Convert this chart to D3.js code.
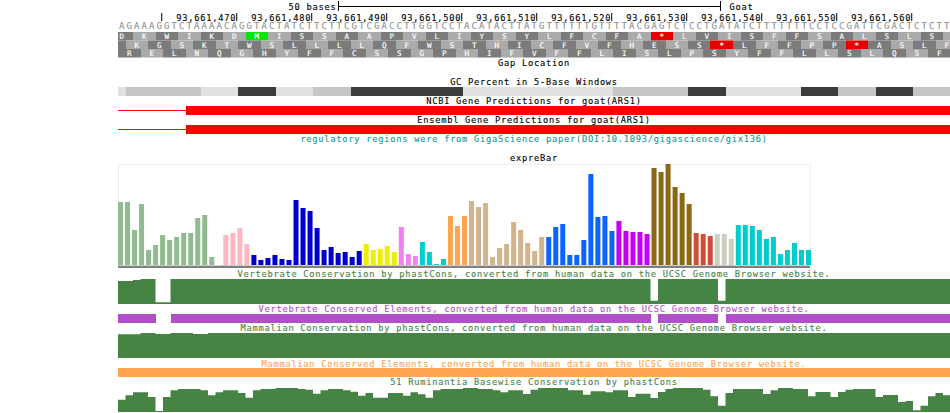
<!DOCTYPE html>
<html>
<head>
<meta charset="utf-8">
<script src="https://cdn.jsdelivr.net/npm/d3@7/dist/d3.min.js"></script>
<style>
body { margin: 0; background: #fff; }
svg { display: block; }
text { font-family: "DejaVu Sans Mono", "Liberation Mono", monospace; font-size: 8.7px; letter-spacing: 0.76px;
       stroke: currentColor; stroke-width: 0.12px; }
</style>
</head>
<body>
<svg id="chart" width="950" height="413"></svg>
<script>
var width = 950;
var height = 413;

// ---------- data ----------
var assemblyName = "Goat";
var viewStart = 93661454.17;          // genome coordinate at the left edge
var scaleBarLabel = "50 bases";
var scaleBarFrom = 93661483.5;
var scaleBarTo = 93661534.5;
var rulerTicks = [93661460, 93661470, 93661480, 93661490, 93661500, 93661510,
                  93661520, 93661530, 93661540, 93661550, 93661560];

var sequence = "AGAAAGGTCTAAAACAGGTACTATCTTCTTCGTCGACCTTGGTCCTAC" +
               "ATACTTATGTTTTTTGTTTTACGAGTCTCCTGATATCTTTTTTTCCTCCGATTCGACTCTCTT";

// three reading frames: first codon start (base index) and the peptide letters
var aaOffsets = [-1, -2, 0];
var aaPeptides = [
  "DKWIKDMISSAAPVLIYSYLFCFA*LVISFFSALSLS ",
  " KGSKTWSLLLLQFWSTHICFVFHESS*LFFPP*ASLF",
  "RELNQGHYFFCSSGPHIFVFFLISLPSYFFLLSLQSF"
];

// GC percent in 5-base windows, first window starts at base -4
var gcWindowStart = -4;
var gcPercent = [20, 40, 40, 20, 60, 20, 40, 60, 60, 60, 20, 20, 20, 20, 40, 40, 60, 20, 20, 60, 40, 60, 40];

// gene models (base index where the thick part begins)
var ncbiThickStart = 9;
var ensemblThickStart = 9;

// expreBar: tissue groups and their bar counts, then bar values
var tissueGroups = ["adipose", "breast", "brain", "pituitary", "nerve", "thyroid", "muscle",
                    "gut", "blood", "skin", "liver", "spleen", "uterus", "lung"];
var tissueCounts = [14, 5, 16, 5, 3, 4, 3, 11, 10, 5, 6, 3, 3, 11];
var expreValues = [
  63, 63, 35, 61, 15, 20, 30, 25, 28, 32, 32, 47, 50, 8,
  0, 30, 32, 37, 21,
  10, 5, 7, 10, 6, 5, 65, 57, 54, 37, 15, 18, 12, 13, 8, 14,
  21, 15, 16, 19, 13,
  38, 11, 9,
  23, 13, 1, 6,
  49, 39, 49,
  64, 58, 62, 8, 17, 21, 43, 35, 22, 14, 28,
  28, 38, 41, 10, 10, 25, 91, 48, 49, 34,
  44, 34, 33, 33, 31,
  97, 93, 101, 78, 72, 61,
  32, 31, 29,
  31, 31, 26,
  40, 40, 39, 35, 26, 28, 11, 15, 22, 15, 15
];

// per-base conservation scores (0..1)
var vertCons = [
  0.92, 0.92, 0.96, 1, 1, 0.07, 0.07, 1, 1, 1,
  1, 1, 1, 1, 1, 1, 1, 1, 1, 1,
  1, 1, 1, 1, 1, 1, 1, 1, 1, 1,
  1, 1, 1, 1, 1, 1, 1, 1, 1, 1,
  1, 1, 1, 1, 1, 1, 1, 1, 1, 1,
  1, 1, 1, 1, 1, 1, 1, 1, 1, 1,
  1, 1, 1, 1, 1, 1, 1, 1, 1, 1,
  1, 0.13, 1, 1, 1, 1, 1, 1, 1, 1,
  0.13, 1, 1, 1, 1, 1, 1, 1, 1, 1,
  1, 1, 1, 1, 1, 1, 1, 1, 1, 1,
  1, 1, 1, 1, 1, 1, 1, 1, 1, 1,
  1
];
var mammCons = [
  0.95, 0.95, 0.95, 1, 1, 0.96, 0.96, 1, 1, 1,
  0.96, 0.96, 1, 1, 1, 1, 1, 1, 1, 1,
  1, 1, 1, 1, 1, 1, 1, 1, 1, 1,
  1, 1, 1, 1, 1, 1, 1, 1, 1, 1,
  1, 1, 1, 1, 1, 1, 1, 1, 1, 1,
  1, 1, 1, 1, 1, 1, 1, 1, 1, 1,
  1, 1, 1, 1, 1, 1, 1, 1, 1, 1,
  1, 1, 1, 1, 1, 1, 1, 1, 1, 1,
  1, 1, 1, 1, 1, 1, 1, 1, 1, 1,
  1, 1, 1, 1, 1, 1, 1, 1, 1, 1,
  1, 1, 1, 1, 1, 1, 1, 1, 1, 1,
  1
];
var rumCons = [
  0.49, 0.67, 0.79, 0.79, 0.60, 0.04, 0.60, 0.87, 0.92, 0.92,
  0.92, 0.87, 0.67, 0.79, 0.87, 0.87, 0.76, 0.57, 0.87, 0.92,
  0.92, 0.96, 0.96, 0.96, 0.92, 0.89, 0.73, 0.87, 0.92, 0.92,
  0.87, 0.81, 0.65, 0.76, 0.57, 0.57, 0.76, 0.76, 0.65, 0.79,
  0.71, 0.57, 0.87, 0.92, 0.92, 0.92, 0.96, 0.96, 0.92, 0.92,
  0.87, 0.79, 0.87, 0.87, 0.72, 0.89, 0.96, 0.96, 0.96, 0.96,
  0.87, 0.87, 0.69, 0.83, 0.83, 0.79, 0.87, 0.87, 0.60, 0.73,
  0.73, 0.56, 0.80, 0.92, 0.96, 0.96, 0.96, 0.96, 0.89, 0.63,
  0.25, 0.76, 0.92, 0.92, 0.92, 0.92, 0.72, 0.87, 0.96, 0.96,
  0.92, 0.92, 0.63, 0.80, 0.80, 0.60, 0.80, 0.89, 0.92, 0.92,
  0.92, 0.60, 0.68, 0.68, 0.40, 0.44, 0.07, 0.25, 0.63, 0.76,
  0.67
];

// conserved elements as [startBase, endBase)
var vertElements = [[0, 5], [7, 71], [72, 80], [81, 111]];
var mammElements = [[0, 111]];

// ---------- drawing ----------
var svg = d3.select("#chart");
var nBases = sequence.length;
var left = 118, right = 950.5, mid = 534;
var consGreen = "#468446";

var xb = d3.scaleLinear().domain([0, nBases]).range([left, right]);
function xr(i) { return Math.round(xb(Math.max(0, Math.min(nBases, i)))); }
var xPos = d3.scaleLinear().domain([viewStart, viewStart + nBases]).range([left, right]);

svg.append("defs").append("clipPath").attr("id", "data-clip")
  .append("rect").attr("x", left).attr("y", 0).attr("width", right - left).attr("height", height);

function title(txt, y, color) {
  svg.append("text").attr("x", mid).attr("y", y).attr("text-anchor", "middle")
    .attr("fill", color || "#000").style("color", color || "#000").text(txt);
}

// scale bar
var sbx0 = Math.round(xPos(scaleBarFrom)) + 0.5;
var sbx1 = Math.round(xPos(scaleBarTo)) + 0.5;
svg.append("line").attr("x1", sbx0).attr("x2", sbx1).attr("y1", 6.5).attr("y2", 6.5).attr("stroke", "#000");
svg.selectAll(".sbtick").data([sbx0, sbx1]).enter().append("line")
  .attr("x1", function(d) { return d; }).attr("x2", function(d) { return d; })
  .attr("y1", 1).attr("y2", 11).attr("stroke", "#000");
svg.append("text").attr("x", sbx0 - 2).attr("y", 9.5).attr("text-anchor", "end").text(scaleBarLabel);
svg.append("text").attr("x", sbx1 + 9).attr("y", 9.5).text(assemblyName);

// ruler
var fmt = d3.format(",");
var ruler = svg.append("g").attr("transform", "translate(0,21)")
  .call(d3.axisTop(xPos).tickValues(rulerTicks).tickSize(8).tickSizeOuter(0)
    .tickFormat(function(d, i) { return i === 0 ? "" : fmt(d); }));
ruler.attr("font-size", null).attr("font-family", null);
ruler.select(".domain").remove();
ruler.selectAll(".tick line").attr("stroke", "#000").attr("transform", "translate(-0.5,0)");
ruler.selectAll(".tick text").attr("text-anchor", "end").attr("x", -1).attr("y", -0.5).attr("dy", null)
  .style("color", "#000");

// sequence
svg.append("g").selectAll("text").data(sequence.split("")).enter().append("text")
  .attr("x", function(d, i) { return xb(i + 0.5); })
  .attr("y", 29)
  .attr("text-anchor", "middle")
  .attr("fill", "#8f8f8f")
  .style("color", "#8f8f8f")
  .style("font-size", "9px").style("letter-spacing", "0px").style("stroke-width", "0.1px")
  .text(function(d) { return d; });

// amino acid frames
var aaG = svg.append("g").attr("clip-path", "url(#data-clip)");
aaPeptides.forEach(function(pep, r) {
  var cells = pep.split("").map(function(ch, k) { return { aa: ch, k: k, start: aaOffsets[r] + 3 * k }; });
  var rowY = 32 + r * 8.5;
  var g = aaG.append("g");
  g.selectAll("rect").data(cells).enter().append("rect")
    .attr("x", function(d) { return xr(d.start); })
    .attr("width", function(d) { return xr(d.start + 3) - xr(d.start); })
    .attr("y", rowY).attr("height", 8.5)
    .attr("fill", function(d) {
      if (d.aa === "M") return "#0ae40a";
      if (d.aa === "*") return "#e60000";
      return d.k % 2 === 0 ? "#7b7b7b" : "#aaaaaa";
    });
  g.selectAll("text").data(cells).enter().append("text")
    .attr("x", function(d) { return xb(d.start + 1.5); })
    .attr("y", rowY + 7)
    .attr("text-anchor", "middle")
    .attr("fill", "#fff")
    .style("color", "#fff")
    .style("font-size", "7.6px").style("letter-spacing", "0px").style("stroke-width", "0.15px")
    .text(function(d) { return d.aa; });
});

title("Gap Location", 66);

// GC percent
title("GC Percent in 5-Base Windows", 85);
var gcColor = d3.scaleThreshold().domain([30, 50]).range(["#e1e1e1", "#c6c6c6", "#3c3c3c"]);
svg.append("g").selectAll("rect").data(gcPercent).enter().append("rect")
  .attr("x", function(d, i) { return xr(gcWindowStart + 5 * i); })
  .attr("width", function(d, i) { return xr(gcWindowStart + 5 * i + 5) - xr(gcWindowStart + 5 * i); })
  .attr("y", 87).attr("height", 9)
  .attr("fill", function(d) { return gcColor(d); });

// gene predictions
function gene(thickStart, y) {
  svg.append("line").attr("x1", xr(0)).attr("x2", xr(thickStart))
    .attr("y1", y + 4.5).attr("y2", y + 4.5).attr("stroke", "#ff0000");
  svg.append("rect").attr("x", xr(thickStart)).attr("width", xr(nBases) - xr(thickStart))
    .attr("y", y).attr("height", 9).attr("fill", "#ff0000");
}
title("NCBI Gene Predictions for goat(ARS1)", 104);
gene(ncbiThickStart, 106);
title("Ensembl Gene Predictions for goat(ARS1)", 123);
gene(ensemblThickStart, 125);
title("regulatory regions were from GigaScience paper(DOI:10.1093/gigascience/gix136)", 142, "#1a9898");

// expreBar
title("expreBar", 161);
var barGroup = [];
tissueCounts.forEach(function(n, gi) { for (var j = 0; j < n; j++) barGroup.push(tissueGroups[gi]); });
var tissueColor = d3.scaleOrdinal().domain(tissueGroups)
  .range(["#8fbc8f", "#ffb6c1", "#0000cd", "#eeee00", "#ee82ee", "#00ced1", "#ffa54f",
          "#d2b48c", "#0a64ff", "#c400f5", "#8b6914", "#cd4f39", "#cdcdc1", "#00cdcd"]);
var xBar = d3.scaleBand().domain(d3.range(expreValues.length)).range([118, 811]).paddingInner(2 / 7).paddingOuter(0);
var yBar = d3.scaleLinear().domain([0, d3.max(expreValues)]).range([265, 164]);
svg.append("rect").attr("x", 118.5).attr("y", 164.5).attr("width", 692).attr("height", 101)
  .attr("fill", "none").attr("stroke", "#eeeeee");
svg.append("g").selectAll("rect").data(expreValues).enter().append("rect")
  .attr("x", function(d, i) { return xBar(i); })
  .attr("width", xBar.bandwidth())
  .attr("y", function(d) { return yBar(d); })
  .attr("height", function(d) { return yBar(0) - yBar(d); })
  .attr("fill", function(d, i) { return tissueColor(barGroup[i]); });
svg.append("line").attr("x1", 118).attr("x2", 811).attr("y1", 265.5).attr("y2", 265.5).attr("stroke", "#cccccc");
svg.append("rect").attr("x", 118).attr("y", 266).attr("width", 692).attr("height", 2).attr("fill", "#808080");

// wiggle tracks
function wiggle(values, top, h) {
  var y = d3.scaleLinear().domain([0, 1]).range([top + h, top]);
  var pts = values.map(function(v, i) { return [i, v]; });
  pts.push([values.length, values[values.length - 1]]);
  var area = d3.area().curve(d3.curveStepAfter)
    .x(function(d) { return xb(d[0]); })
    .y0(top + h)
    .y1(function(d) { return y(d[1]); });
  svg.append("path").attr("d", area(pts)).attr("fill", consGreen);
}
function elements(list, y, color) {
  svg.append("g").selectAll("rect").data(list).enter().append("rect")
    .attr("x", function(d) { return xr(d[0]); })
    .attr("width", function(d) { return xr(d[1]) - xr(d[0]); })
    .attr("y", y).attr("height", 9).attr("fill", color);
}

title("Vertebrate Conservation by phastCons, converted from human data on the UCSC Genome Browser website.", 276.5, consGreen);
wiggle(vertCons, 279, 25);
title("Vertebrate Conserved Elements, converted from human data on the UCSC Genome Browser website.", 312, "#b14fc9");
elements(vertElements, 314, "#b14fc9");
title("Mammalian Conservation by phastCons, converted from human data on the UCSC Genome Browser website.", 331, consGreen);
wiggle(mammCons, 333, 25);
title("Mammalian Conserved Elements, converted from human data on the UCSC Genome Browser website.", 366.5, "#ffa54f");
elements(mammElements, 368, "#ffa54f");
title("51 Ruminantia Basewise Conservation by phastCons", 385, consGreen);
wiggle(rumCons, 387, 25);
</script>
</body>
</html>
